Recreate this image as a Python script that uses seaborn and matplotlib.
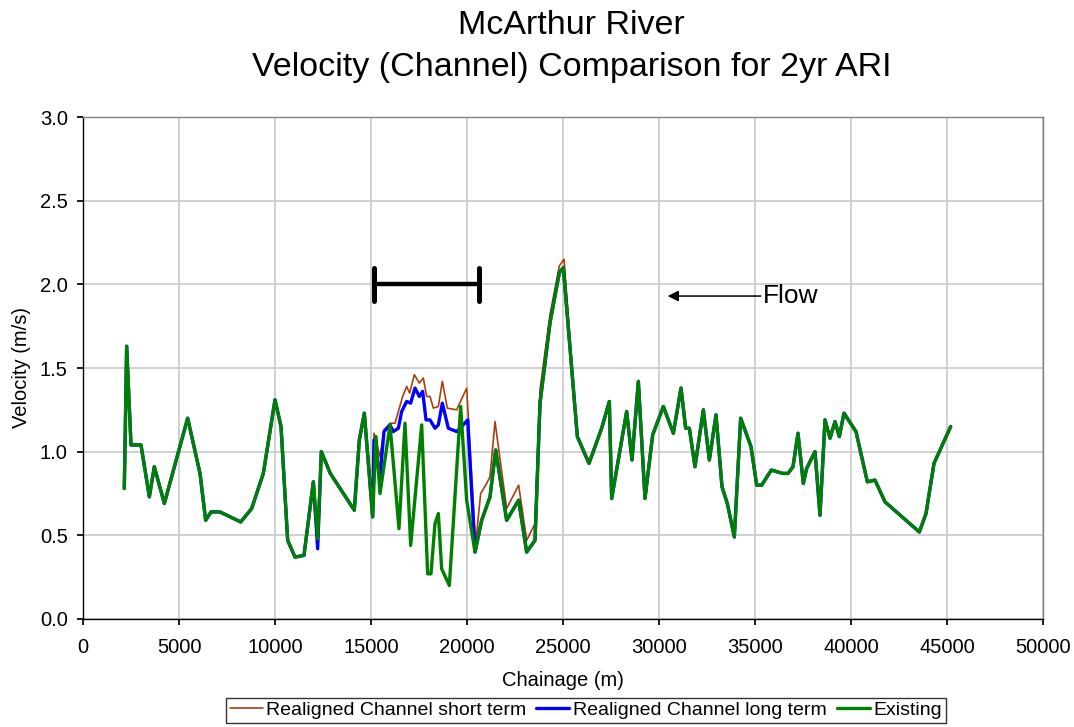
import matplotlib
matplotlib.use("Agg")
import matplotlib.pyplot as plt
import seaborn as sns
import pandas as pd

# ---------------- data ----------------
series_names = ["Realigned Channel short term", "Realigned Channel long term", "Existing"]

chainage_existing = [2151, 2274, 2500, 3021, 3455, 3715, 4236, 5451, 6094, 6389, 6667, 7135,
                     8212, 8785, 9392, 10000, 10313, 10660, 11042, 11510, 11997, 12222, 12413,
                     12880, 14130, 14392, 14653, 15087, 15260, 15469, 15990, 16458, 16771, 17066,
                     17640, 17951, 18125, 18333, 18507, 18680, 19080, 19670, 19983, 20417, 20764,
                     21198, 21493, 22066, 22690, 23108, 23542, 23802, 24323, 24809, 25017, 25747,
                     26354, 27014, 27413, 27535, 28316, 28594, 28924, 29271, 29670, 30226, 30747,
                     31146, 31389, 31580, 31875, 32309, 32622, 32969, 33281, 33559, 33924, 34253,
                     34792, 35087, 35347, 35851, 36458, 36719, 36979, 37240, 37517, 37691, 38125,
                     38385, 38646, 38906, 39167, 39392, 39635, 40260, 40851, 41250, 41771, 43559,
                     43906, 44323, 45191]
velocity_existing = [0.78, 1.63, 1.04, 1.04, 0.73, 0.91, 0.69, 1.20, 0.87, 0.59, 0.64, 0.64,
                     0.58, 0.66, 0.87, 1.31, 1.15, 0.47, 0.37, 0.38, 0.82, 0.48, 1.00,
                     0.87, 0.65, 1.07, 1.23, 0.61, 1.09, 0.75, 1.16, 0.54, 1.17, 0.44,
                     1.16, 0.27, 0.27, 0.57, 0.63, 0.30, 0.20, 1.27, 0.71, 0.40, 0.59,
                     0.73, 1.01, 0.59, 0.71, 0.40, 0.47, 1.29, 1.77, 2.07, 2.10, 1.09,
                     0.93, 1.14, 1.30, 0.72, 1.24, 0.95, 1.42, 0.72, 1.10, 1.27, 1.11,
                     1.38, 1.14, 1.14, 0.91, 1.25, 0.95, 1.22, 0.79, 0.69, 0.49, 1.20,
                     1.03, 0.80, 0.80, 0.89, 0.87, 0.87, 0.91, 1.11, 0.81, 0.90, 1.00,
                     0.62, 1.19, 1.08, 1.18, 1.09, 1.23, 1.12, 0.82, 0.83, 0.70, 0.52,
                     0.63, 0.93, 1.15]

chainage_long = [2151, 2274, 2500, 3021, 3455, 3715, 4236, 5451, 6094, 6389, 6667, 7135,
                 8212, 8785, 9392, 10000, 10313, 10660, 11042, 11510, 11997, 12222, 12413,
                 12880, 14130, 14392, 14653, 15087, 15156, 15469, 15677, 15990, 16163, 16424,
                 16597, 16858, 17066, 17292, 17517, 17691, 17865, 18073, 18333, 18507, 18715,
                 19028, 19462, 19722, 20035, 20417, 20764, 21198, 21493, 22066, 22690, 23108,
                 23542, 23802, 24323, 24809, 25017, 25747, 26354, 27014, 27413, 27535, 28316,
                 28594, 28924, 29271, 29670, 30226, 30747, 31146, 31389, 31580, 31875, 32309,
                 32622, 32969, 33281, 33559, 33924, 34253, 34792, 35087, 35347, 35851, 36458,
                 36719, 36979, 37240, 37517, 37691, 38125, 38385, 38646, 38906, 39167, 39392,
                 39635, 40260, 40851, 41250, 41771, 43559, 43906, 44323, 45191]
velocity_long = [0.78, 1.63, 1.04, 1.04, 0.73, 0.91, 0.69, 1.20, 0.87, 0.59, 0.64, 0.64,
                 0.58, 0.66, 0.87, 1.31, 1.15, 0.47, 0.37, 0.38, 0.82, 0.42, 1.00,
                 0.87, 0.65, 1.07, 1.23, 0.61, 1.07, 0.85, 1.12, 1.16, 1.12, 1.14,
                 1.24, 1.30, 1.29, 1.38, 1.33, 1.36, 1.19, 1.19, 1.14, 1.16, 1.29,
                 1.14, 1.12, 1.15, 1.19, 0.40, 0.59, 0.73, 1.01, 0.59, 0.71, 0.40,
                 0.47, 1.29, 1.77, 2.07, 2.10, 1.09, 0.93, 1.14, 1.30, 0.72, 1.24,
                 0.95, 1.42, 0.72, 1.10, 1.27, 1.11, 1.38, 1.14, 1.14, 0.91, 1.25,
                 0.95, 1.22, 0.79, 0.69, 0.49, 1.20, 1.03, 0.80, 0.80, 0.89, 0.87,
                 0.87, 0.91, 1.11, 0.81, 0.90, 1.00, 0.62, 1.19, 1.08, 1.18, 1.09,
                 1.23, 1.12, 0.82, 0.83, 0.70, 0.52, 0.63, 0.93, 1.15]

chainage_short = [2151, 2274, 2500, 3021, 3455, 3715, 4236, 5451, 6094, 6389, 6667, 7135,
                  8212, 8785, 9392, 10000, 10313, 10660, 11042, 11510, 11997, 12222, 12413,
                  12880, 14130, 14392, 14653, 15087, 15156, 15469, 15677, 15990, 16250, 16649,
                  16858, 17014, 17257, 17517, 17726, 17899, 18073, 18247, 18507, 18715, 18976,
                  19462, 19983, 20450, 20712, 21024, 21198, 21458, 22066, 22690, 23108, 23542,
                  23802, 24323, 24809, 25052, 25747, 26354, 27014, 27413, 27535, 28316,
                  28594, 28924, 29271, 29670, 30226, 30747, 31146, 31389, 31580, 31875, 32309,
                  32622, 32969, 33281, 33559, 33924, 34253, 34792, 35087, 35347, 35851, 36458,
                  36719, 36979, 37240, 37517, 37691, 38125, 38385, 38646, 38906, 39167, 39392,
                  39635, 40260, 40851, 41250, 41771, 43559, 43906, 44323, 45191]
velocity_short = [0.78, 1.63, 1.04, 1.04, 0.73, 0.91, 0.69, 1.20, 0.87, 0.59, 0.64, 0.64,
                  0.58, 0.66, 0.87, 1.31, 1.15, 0.47, 0.37, 0.38, 0.82, 0.42, 1.00,
                  0.87, 0.65, 1.07, 1.23, 0.61, 1.11, 0.97, 1.13, 1.17, 1.17, 1.33,
                  1.39, 1.35, 1.46, 1.41, 1.44, 1.33, 1.33, 1.26, 1.27, 1.42, 1.26,
                  1.25, 1.38, 0.45, 0.75, 0.81, 0.85, 1.18, 0.66, 0.80, 0.47, 0.57,
                  1.37, 1.82, 2.11, 2.15, 1.09, 0.93, 1.14, 1.30, 0.72, 1.24,
                  0.95, 1.42, 0.72, 1.10, 1.27, 1.11, 1.38, 1.14, 1.14, 0.91, 1.25,
                  0.95, 1.22, 0.79, 0.69, 0.49, 1.20, 1.03, 0.80, 0.80, 0.89, 0.87,
                  0.87, 0.91, 1.11, 0.81, 0.90, 1.00, 0.62, 1.19, 1.08, 1.18, 1.09,
                  1.23, 1.12, 0.82, 0.83, 0.70, 0.52, 0.63, 0.93, 1.15]

x_ticks = [0, 5000, 10000, 15000, 20000, 25000, 30000, 35000, 40000, 45000, 50000]
y_ticks = [0.0, 0.5, 1.0, 1.5, 2.0, 2.5, 3.0]

# reach bar and flow arrow annotation values
reach_start, reach_end, reach_level = 15160, 20620, 2.0
flow_from, flow_to, flow_level = 35300, 30450, 1.93

# ---------------- build frame ----------------
frames = []
for name, xs, ys in zip(series_names,
                        [chainage_short, chainage_long, chainage_existing],
                        [velocity_short, velocity_long, velocity_existing]):
    frames.append(pd.DataFrame({"Chainage": xs, "Velocity": ys, "Series": name}))
df = pd.concat(frames, ignore_index=True)

sns.set_theme(style="white")
plt.rcParams["font.family"] = ["Liberation Sans", "DejaVu Sans"]
plt.rcParams["text.color"] = "black"
plt.rcParams["axes.labelcolor"] = "black"
plt.rcParams["xtick.color"] = "black"
plt.rcParams["ytick.color"] = "black"

fig = plt.figure(figsize=(10.74, 7.27), dpi=100)
ax = fig.add_axes([83 / 1074, 1 - 619 / 727, 960 / 1074, 502 / 727])

palette = {series_names[0]: "#A8400E", series_names[1]: "#0000FF", series_names[2]: "#008000"}
sizes = {series_names[0]: 1.2, series_names[1]: 2.4, series_names[2]: 2.4}

sns.lineplot(data=df, x="Chainage", y="Velocity", hue="Series", size="Series",
             sizes=sizes, palette=palette, hue_order=series_names, size_order=series_names,
             sort=False, estimator=None, ax=ax, legend=True)

ax.set_xlim(0, 50000)
ax.set_ylim(0, 3.0)
ax.set_xticks(x_ticks)
ax.set_xticklabels([str(v) for v in x_ticks])
ax.set_yticks(y_ticks)
ax.set_yticklabels([f"{v:.1f}" for v in y_ticks])
ax.grid(True, color="#C8C8C8", linewidth=1.2)
ax.set_axisbelow(True)
for s in ax.spines.values():
    s.set_color("#808080")
    s.set_linewidth(1.0)
ax.spines["left"].set_color("#000000")
ax.spines["bottom"].set_color("#000000")
ax.tick_params(axis="x", labelsize=14.5, length=4, direction="out", color="black",
               bottom=True, pad=10)
ax.tick_params(axis="y", labelsize=14.5, length=4, direction="out", color="black",
               left=True, pad=7)
ax.set_xlabel("Chainage (m)", fontsize=14.5, labelpad=10)
ax.set_ylabel("Velocity (m/s)", fontsize=14.5, labelpad=6)

# reach bar
ax.plot([reach_start, reach_end], [reach_level, reach_level], color="black", lw=3.2,
        solid_capstyle="butt")
for xv in (reach_start, reach_end):
    ax.plot([xv, xv], [reach_level - 0.1, reach_level + 0.1], color="black", lw=3.6,
            solid_capstyle="round")

# flow arrow
ax.annotate("", xy=(flow_to, flow_level), xytext=(flow_from, flow_level),
            arrowprops=dict(arrowstyle="-|>", color="black", lw=1.1, mutation_scale=16,
                            shrinkA=0, shrinkB=0))
ax.text(flow_from + 100, flow_level, "Flow", fontsize=19, va="center", ha="left")

fig.suptitle("McArthur River\nVelocity (Channel) Comparison for 2yr ARI", x=0.532, y=0.986,
             fontsize=24.5, linespacing=1.45)

# legend
handles, labels = ax.get_legend_handles_labels()
ax.get_legend().remove()
h_map = dict(zip(labels, handles))
leg = fig.legend([h_map[n] for n in series_names], series_names, loc="upper center",
                 bbox_to_anchor=(0.5456, 0.0405), ncol=3, fontsize=14, frameon=True,
                 fancybox=False, edgecolor="black", handlelength=1.7, handletextpad=0.2,
                 columnspacing=0.5, borderpad=0.2, borderaxespad=0)
leg.get_frame().set_linewidth(1.0)

fig.savefig("out.png", dpi=100)
